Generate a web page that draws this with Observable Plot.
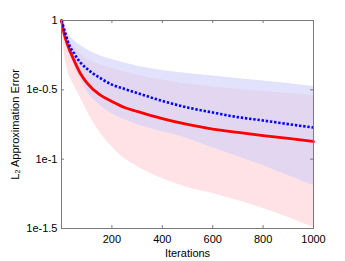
<!DOCTYPE html>
<html>
<head>
<meta charset="utf-8">
<script src="https://cdn.jsdelivr.net/npm/d3@7"></script>
<script src="https://cdn.jsdelivr.net/npm/@observablehq/plot@0.6"></script>
<style>
  html, body { margin: 0; padding: 0; background: #fff; }
  #chart svg { display: block; }
</style>
</head>
<body>
<div id="chart"></div>
<script>
const iterations = [0, 10, 25, 50, 75, 100, 150, 200, 250, 300, 400, 500, 600, 700, 800, 900, 1000];
const blueMean  = [1.000, 0.876, 0.706, 0.578, 0.498, 0.450, 0.388, 0.345, 0.321, 0.300, 0.263, 0.236, 0.217, 0.201, 0.190, 0.179, 0.169];
const blueUpper = [1.000, 0.905, 0.806, 0.717, 0.660, 0.618, 0.559, 0.523, 0.494, 0.470, 0.436, 0.415, 0.398, 0.382, 0.366, 0.351, 0.334];
const blueLower = [1.000, 0.847, 0.660, 0.474, 0.382, 0.313, 0.248, 0.213, 0.193, 0.178, 0.158, 0.141, 0.121, 0.1045, 0.0900, 0.0762, 0.0646];
const redMean   = [1.000, 0.806, 0.660, 0.515, 0.415, 0.357, 0.293, 0.261, 0.236, 0.221, 0.196, 0.178, 0.165, 0.156, 0.148, 0.141, 0.134];
const redUpper  = [1.000, 0.876, 0.754, 0.649, 0.578, 0.532, 0.482, 0.450, 0.425, 0.405, 0.372, 0.348, 0.332, 0.318, 0.308, 0.298, 0.288];
const redLower  = [1.000, 0.608, 0.436, 0.340, 0.278, 0.224, 0.158, 0.123, 0.101, 0.0886, 0.0725, 0.0625, 0.0565, 0.0503, 0.0441, 0.0380, 0.0321];

const xTicks = [200, 400, 600, 800, 1000];
const xTickLabels = ["200", "400", "600", "800", "1000"];
const yTicks = [1, Math.pow(10, -0.5), 0.1, Math.pow(10, -1.5)];
const yTickLabels = ["1", "1e-0.5", "1e-1", "1e-1.5"];
const xLabel = "Iterations";
const yLabel = "L\u2082 Approximation Error";

const rows = iterations.map((it, i) => ({
  it,
  bm: blueMean[i], bu: blueUpper[i], bl: blueLower[i],
  rm: redMean[i], ru: redUpper[i], rl: redLower[i],
  ol: Math.max(blueLower[i], redLower[i]),
  ou: Math.min(blueUpper[i], redUpper[i])
}));

const W = 345, H = 261;
const mL = 61, mR = 32, mT = 20, mB = 33;
const innerW = W - mL - mR, innerH = H - mT - mB;
const grey = "#7a7a7a";

const chart = Plot.plot({
  width: W,
  height: H,
  marginLeft: mL,
  marginRight: mR,
  marginTop: mT,
  marginBottom: mB,
  style: { fontFamily: "'Liberation Sans', Arial, sans-serif", fontSize: "11px", color: "#000", background: "#fff" },
  x: { domain: [0, 1000] },
  y: { type: "log", domain: [Math.pow(10, -1.5), 1] },
  marks: [
    Plot.areaY(rows, { x: "it", y1: "rl", y2: "ru", fill: "#ffe2e5", curve: "monotone-x" }),
    Plot.areaY(rows, { x: "it", y1: "bl", y2: "bu", fill: "#e2e2fd", curve: "monotone-x" }),
    Plot.areaY(rows, { x: "it", y1: "ol", y2: "ou", fill: "#e3d6f1", curve: "monotone-x" }),
    Plot.lineY(rows, { x: "it", y: "rm", stroke: "#ff0000", strokeWidth: 2.8, curve: "monotone-x" }),
    Plot.lineY(rows, { x: "it", y: "bm", stroke: "#0000ff", strokeWidth: 2.6, strokeDasharray: "2.4,1.8", strokeLinecap: "butt", curve: "monotone-x" }),
    Plot.frame({ stroke: grey }),
    Plot.tickX(xTicks, { x: d => d, insetTop: innerH - 3, stroke: grey }),
    Plot.tickX(xTicks, { x: d => d, insetBottom: innerH - 3, stroke: grey }),
    Plot.tickY(yTicks, { y: d => d, insetRight: innerW - 3, stroke: grey }),
    Plot.tickY(yTicks, { y: d => d, insetLeft: innerW - 3, stroke: grey }),
    Plot.axisX(xTicks, { tickSize: 0, tickPadding: 7, label: null, fill: "#000",
      tickFormat: d => xTickLabels[xTicks.indexOf(d)] }),
    Plot.axisY(yTicks, { tickSize: 0, tickPadding: 4, label: null, fill: "#000",
      tickFormat: d => yTickLabels[yTicks.indexOf(d)] }),
    Plot.text([xLabel], { frameAnchor: "bottom", dy: 28, lineAnchor: "bottom", text: d => d, fill: "#000" }),
    Plot.text([yLabel], { frameAnchor: "left", dx: -46, rotate: -90, textAnchor: "middle", text: d => d, fill: "#000" })
  ]
});
document.getElementById("chart").appendChild(chart);
</script>
</body>
</html>
